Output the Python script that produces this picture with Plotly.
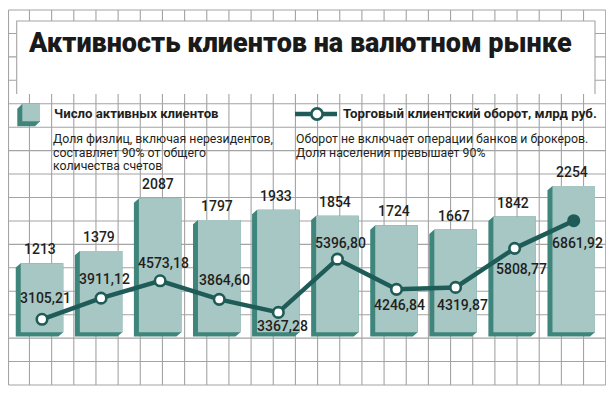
import plotly.graph_objects as go

# ---------------- data ----------------
title_text = "Активность клиентов на валютном рынке"
clients = [1213, 1379, 2087, 1797, 1933, 1854, 1724, 1667, 1842, 2254]
turnover = [3105.21, 3911.12, 4573.18, 3864.60, 3367.28, 5396.80, 4246.84, 4319.87, 5808.77, 6861.92]
legend_bars = "Число активных клиентов"
note_bars = ["Доля физлиц, включая нерезидентов,", "составляет 90% от общего", "количества счетов"]
legend_line = "Торговый клиентский оборот, млрд руб."
note_line = ["Оборот не включает операции банков и брокеров.", "Доля населения превышает 90%"]

# ---------------- styles / layout ----------------
OFF = 8                      # page body margin of the browser
W, H = 614 - 2 * OFF, 395 - 2 * OFF
LIGHT = "#a7c7c4"
DARK = "#3e857b"
LINE = "#1f5c57"
GRID = "#a4a4a4"
TXT = "#231f20"
FONT = "Roboto"

X0_PX, STEP_PX = 42.0 - OFF, 59.08
BAR_W = 42.5 / STEP_PX
K_BAR = 0.07426           # px per client
REF_V, REF_PX = 1213, 263.3 - OFF
K_LINE = 0.026246         # px per bln rub
REF_L, REF_LPX = 3105.21, 319.3 - OFF
BASE = REF_V - (332.3 - OFF - REF_PX) / K_BAR
DX_PX, DY_PX = 5.0, 4.3   # 3D extrusion offset (left, down)

x_range = [-X0_PX / STEP_PX, (W - X0_PX) / STEP_PX]
y_bar_range = [REF_V - (H - REF_PX) / K_BAR, REF_V + REF_PX / K_BAR]
y_line_range = [REF_L - (H - REF_LPX) / K_LINE, REF_L + REF_LPX / K_LINE]

label_dx = [3.4, 3.7, 3.3, 5, 4, 3.3, 3, 7.3, 7.3, 3.3]
label_dy = [-21, -19.3, -17.4, -19.3, 13.4, -15.7, 16, 17.7, 20.6, 22]
marker_fill = ["white"] * (len(turnover) - 1) + [LINE]

xs = list(range(len(clients)))

def px(x):
    return max(x - OFF, 0.5) / W

def py(y):
    return 1 - (y - OFF) / H

fig = go.Figure()

# dark extruded sides of bars
dxu = DX_PX / STEP_PX
dyu = DY_PX / K_BAR
ex, ey = [], []
for i, v in zip(xs, clients):
    l, r = i - BAR_W / 2, i + BAR_W / 2
    ex += [l, l - dxu, l - dxu, r - dxu, r, r, l, None]
    ey += [v, v - dyu, BASE - dyu, BASE - dyu, BASE, v, v, None]
fig.add_trace(go.Scatter(x=ex, y=ey, mode="lines", fill="toself", fillcolor=DARK,
                         line=dict(width=0, color=DARK), hoverinfo="skip",
                         xaxis="x", yaxis="y", showlegend=False))

# front faces of bars
fig.add_trace(go.Bar(x=xs, y=[v - BASE for v in clients], base=BASE, width=BAR_W,
                     marker=dict(color=LIGHT, line=dict(width=0)),
                     xaxis="x2", yaxis="y2", showlegend=False, hoverinfo="skip"))

# turnover line
fig.add_trace(go.Scatter(x=xs, y=turnover, mode="lines+markers",
                         line=dict(color=LINE, width=4.5),
                         marker=dict(size=10.5, color=marker_fill, line=dict(color=LINE, width=2.6)),
                         xaxis="x3", yaxis="y3", showlegend=False, hoverinfo="skip"))

ann = []
for i, v in zip(xs, clients):
    ann.append(dict(x=i, y=v, xref="x2", yref="y2", text=str(v), showarrow=False,
                    xshift=-2, yshift=14, yanchor="middle", xanchor="center",
                    font=dict(family=FONT, size=14, color=TXT, weight=500)))
for i, v in enumerate(turnover):
    ann.append(dict(x=i, y=v, xref="x3", yref="y3", text=f"{v:.2f}".replace(".", ","),
                    showarrow=False, xshift=label_dx[i], yshift=-label_dy[i],
                    yanchor="middle", xanchor="center",
                    font=dict(family=FONT, size=14, color=TXT, weight=500)))

# title and legend texts
ann.append(dict(x=px(26), y=py(43), xref="paper", yref="paper", text=title_text,
                showarrow=False, xanchor="left", yanchor="middle",
                font=dict(family=FONT, size=27, color="#1a1a1a", weight=900)))
ann.append(dict(x=px(52), y=py(114), xref="paper", yref="paper", text=legend_bars,
                showarrow=False, xanchor="left", yanchor="middle",
                font=dict(family=FONT, size=13.2, color=TXT, weight=700)))
ann.append(dict(x=px(341), y=py(114), xref="paper", yref="paper", text=legend_line,
                showarrow=False, xanchor="left", yanchor="middle",
                font=dict(family=FONT, size=13.3, color=TXT, weight=700)))
for j, t in enumerate(note_bars):
    ann.append(dict(x=px(52), y=py(139.3 + 13.4 * j), xref="paper", yref="paper", text=t,
                    showarrow=False, xanchor="left", yanchor="middle", borderpad=0,
                    font=dict(family=FONT, size=12.3, color=TXT)))
for j, t in enumerate(note_line):
    ann.append(dict(x=px(295), y=py(139.3 + 13.4 * j), xref="paper", yref="paper", text=t,
                    showarrow=False, xanchor="left", yanchor="middle", borderpad=0,
                    font=dict(family=FONT, size=12.3, color=TXT)))

# background grid
GX0, GX1, NCOL = 7.3, 605.7, 27
GY0, GY1, NROW = 10.0, 385.0, 16
path = ""
for i in range(NCOL + 1):
    x = GX0 + (GX1 - GX0) * i / NCOL
    path += f"M{px(x):.5f},{py(GY0):.5f}L{px(x):.5f},{py(GY1):.5f}"
for j in range(NROW + 1):
    y = GY0 + (GY1 - GY0) * j / NROW
    path += f"M{px(GX0):.5f},{py(y):.5f}L{px(GX1):.5f},{py(y):.5f}"
shapes = [
    dict(type="path", path=path, xref="paper", yref="paper", layer="below",
         line=dict(color=GRID, width=1.1)),
    dict(type="rect", x0=px(16.7), x1=px(595), y0=py(21), y1=py(94), xref="paper", yref="paper",
         layer="below", fillcolor="white", line=dict(width=0)),
    dict(type="path", xref="paper", yref="paper", layer="below", line=dict(color=GRID, width=1.1),
         path=f"M{px(16.7)},{py(94)}L{px(16.7)},{py(21)}L{px(595)},{py(21)}L{px(595)},{py(94)}"),
]
# legend icon: 3D square
shapes.append(dict(type="path", xref="paper", yref="paper", fillcolor=DARK, line=dict(width=0),
                   path=(f"M{px(22.3)},{py(103.7)}L{px(17.3)},{py(108.7)}L{px(17.3)},{py(126.3)}"
                         f"L{px(35)},{py(126.3)}L{px(40)},{py(121.3)}L{px(40)},{py(103.7)}Z")))
shapes.append(dict(type="rect", xref="paper", yref="paper", x0=px(22.3), x1=px(40), y0=py(121.3),
                   y1=py(103.7), fillcolor=LIGHT, line=dict(width=0)))
# legend icon: line with circle
shapes.append(dict(type="line", xref="paper", yref="paper", x0=px(295), x1=px(337), y0=py(114),
                   y1=py(114), line=dict(color=LINE, width=4.5)))
shapes.append(dict(type="circle", xref="paper", yref="paper", x0=px(317 - 5.6), x1=px(317 + 5.6),
                   y0=py(114 - 5.6), y1=py(114 + 5.6), fillcolor="white",
                   line=dict(color=LINE, width=2.6)))

ax = dict(visible=False, fixedrange=True, showgrid=False, zeroline=False)
fig.update_layout(
    width=W, height=H, margin=dict(l=0, r=0, t=0, b=0),
    paper_bgcolor="white", plot_bgcolor="rgba(0,0,0,0)",
    barmode="overlay", showlegend=False,
    xaxis=dict(ax, range=x_range, domain=[0, 1]),
    yaxis=dict(ax, range=y_bar_range, domain=[0, 1]),
    xaxis2=dict(ax, range=x_range, overlaying="x"),
    yaxis2=dict(ax, range=y_bar_range, overlaying="y"),
    xaxis3=dict(ax, range=x_range, overlaying="x"),
    yaxis3=dict(ax, range=y_line_range, overlaying="y"),
    annotations=ann, shapes=shapes,
)

fig.write_html("out.html")
